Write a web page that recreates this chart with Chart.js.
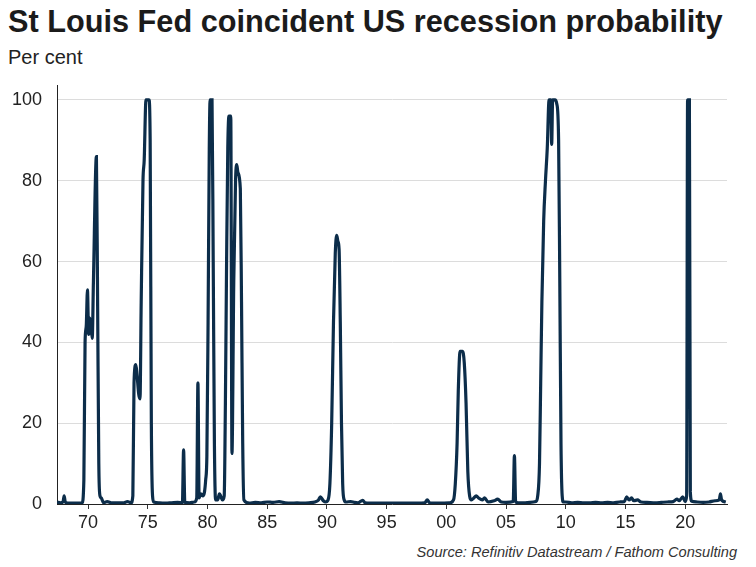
<!DOCTYPE html>
<html>
<head>
<meta charset="utf-8">
<script src="https://cdn.jsdelivr.net/npm/chart.js@4"></script>
<style>
  body { margin: 0; background: #fff; font-family: "Liberation Sans", Arial, sans-serif; }
  #wrap { position: relative; width: 756px; height: 567px; overflow: hidden; }
  #title { position: absolute; left: 8px; top: 4px; font-size: 30.7px; font-weight: bold; color: #1b1b1b; white-space: nowrap; }
  #unit { position: absolute; left: 8px; top: 46px; font-size: 20px; color: #222; }
  #source { position: absolute; right: 19px; top: 544px; font-size: 14.6px; font-style: italic; color: #333; }
  #box { position: absolute; left: 0; top: 60px; width: 756px; height: 480px; }
</style>
</head>
<body>
<div id="wrap">
  <div id="title">St Louis Fed coincident US recession probability</div>
  <div id="unit">Per cent</div>
  <div id="box"><canvas id="grafica" width="756" height="480"></canvas></div>
  <div id="source">Source: Refinitiv Datastream / Fathom Consulting</div>
</div>
<script>
// fechas en años decimales, valores en %
const fechas = [
  1967.4, 1967.7, 1967.9, 1968.0, 1968.1, 1968.5, 1969.0, 1969.5,
  1969.65, 1969.75, 1969.85, 1969.95, 1970.05, 1970.15, 1970.25, 1970.35, 1970.45, 1970.7, 1970.8, 1970.9,
  1971.0, 1971.1, 1971.3, 1971.6, 1972.0, 1972.5, 1973.0, 1973.3, 1973.6,
  1973.75, 1973.85, 1974.0, 1974.1, 1974.25, 1974.35, 1974.45, 1974.6, 1974.7, 1974.85, 1975.1, 1975.2, 1975.3, 1975.4,
  1975.5, 1976.0, 1976.5, 1977.0, 1977.5, 1977.9, 1978.0, 1978.1, 1978.5, 1978.9,
  1979.1, 1979.2, 1979.3, 1979.45, 1979.6, 1979.75, 1979.85, 1979.95,
  1980.05, 1980.15, 1980.22, 1980.38, 1980.48, 1980.58, 1980.68, 1980.85, 1981.0, 1981.1, 1981.25,
  1981.4, 1981.5, 1981.6, 1981.7, 1981.8, 1981.95, 1982.05, 1982.2, 1982.35, 1982.45, 1982.55, 1982.75, 1982.85, 1982.95, 1983.05,
  1983.5, 1984.0, 1984.5, 1985.0, 1985.5, 1986.0, 1986.5, 1987.0, 1987.5, 1988.0, 1988.5, 1989.0, 1989.3, 1989.45, 1989.7, 1989.9,
  1990.1, 1990.25, 1990.4, 1990.55, 1990.7, 1990.82, 1990.92, 1991.02, 1991.12, 1991.22, 1991.32, 1991.45,
  1991.6, 1992.0, 1992.3, 1992.6, 1993.0, 1993.2, 1993.6, 1994.5, 1995.5, 1996.5, 1997.5, 1998.2, 1998.4, 1998.6, 1999.5, 2000.3,
  2000.6, 2000.75, 2000.9, 2001.0, 2001.15, 2001.35, 2001.5, 2001.65, 2001.8, 2001.95,
  2002.1, 2002.3, 2002.5, 2002.7, 2003.0, 2003.2, 2003.5, 2004.0, 2004.3, 2004.6, 2005.0, 2005.6, 2005.7, 2005.8,
  2006.0, 2006.5, 2007.0, 2007.5,
  2007.65, 2007.8, 2007.9, 2008.0, 2008.15, 2008.3, 2008.45, 2008.6, 2008.75, 2008.82, 2008.9, 2009.1, 2009.25, 2009.4, 2009.5, 2009.6, 2009.7, 2009.8,
  2010.0, 2010.5, 2011.0, 2011.5, 2012.0, 2012.5, 2013.0, 2013.5, 2014.0, 2014.5, 2014.9,
  2015.1, 2015.3, 2015.5, 2015.7, 2016.0, 2016.3, 2016.8, 2017.5, 2018.0, 2018.5, 2019.0, 2019.3, 2019.5, 2019.8, 2020.0,
  2020.12, 2020.2, 2020.35, 2020.43, 2020.55, 2021.0, 2021.5, 2022.0, 2022.5, 2022.85, 2022.95, 2023.05, 2023.4
];
const probabilidad = [
  0.5, 0.3, 0.5, 2.0, 0.4, 0.2, 0.2, 0.3,
  6, 40, 44, 53, 42, 46, 44, 41, 55, 86, 50, 10,
  2, 1.5, 0.3, 0.6, 0.3, 0.3, 0.3, 0.6, 0.3,
  2, 30, 34.5, 32, 27, 26, 50, 80, 85, 100, 100, 90, 20, 2,
  0.5, 0.3, 0.2, 0.3, 0.4, 0.3, 13.4, 0.4, 0.3, 0.5,
  1.5, 30, 1.5, 2.5, 2, 3, 6, 12,
  45, 88, 100, 100, 60, 15, 1, 1, 2.5, 2, 1,
  2, 25, 60, 88, 96, 96, 12.5, 55, 80, 84, 82, 78, 50, 15, 1,
  0.2, 0.4, 0.3, 0.5, 0.4, 0.6, 0.3, 0.2, 0.3, 0.2, 0.3, 0.5, 1, 1.8, 0.8, 0.5,
  1, 5, 20, 45, 62, 66.5, 65, 63, 45, 20, 5, 1,
  0.5, 0.6, 0.4, 0.3, 0.9, 0.3, 0.2, 0.2, 0.2, 0.2, 0.2, 0.3, 1, 0.3, 0.2, 0.3,
  1, 5, 15, 28, 37.8, 37.8, 35, 25, 8, 2,
  1, 1.5, 2, 1.5, 1, 1.5, 0.5, 0.8, 1.2, 0.5, 0.4, 0.6, 12, 0.6,
  0.3, 0.3, 0.4, 0.6,
  2, 10, 30, 50, 70, 80, 88, 100, 100, 89, 100, 100, 99, 90, 55, 15, 2, 0.5,
  0.5, 0.3, 0.4, 0.3, 0.3, 0.4, 0.3, 0.4, 0.3, 0.5, 0.6,
  1.8, 1.0, 1.5, 0.8, 1.0, 0.5, 0.4, 0.3, 0.4, 0.5, 0.6, 1.2, 0.8, 1.8, 0.6,
  2, 100, 100, 3, 0.7, 0.5, 0.4, 0.5, 0.8, 1, 2.5, 1, 0.5
];
const etiquetasX = [1970, 1975, 1980, 1985, 1990, 1995, 2000, 2005, 2010, 2015, 2020];
const etiquetasY = [0, 20, 40, 60, 80, 100];

const puntos = fechas.map((f, i) => ({ x: f, y: probabilidad[i] }));

new Chart(document.getElementById('grafica'), {
  type: 'line',
  data: {
    datasets: [{
      data: puntos,
      borderColor: '#0c2d4a',
      borderWidth: 3.2,
      pointRadius: 0,
      cubicInterpolationMode: 'monotone',
      fill: false,
    }]
  },
  options: {
    responsive: false,
    animation: false,
    layout: { padding: { top: 5, right: 29, bottom: 0, left: 0 } },
    plugins: { legend: { display: false }, tooltip: { enabled: false } },
    scales: {
      x: {
        type: 'linear',
        min: 1967.4,
        max: 2023.5,
        afterBuildTicks: (axis) => { axis.ticks = etiquetasX.map(v => ({ value: v })); },
        afterFit: (axis) => { axis.height = 36; },
        grid: { drawOnChartArea: false, drawTicks: true, tickLength: 5, tickColor: '#333' },
        border: { color: '#222', width: 1 },
        ticks: {
          color: '#222',
          font: { family: 'Liberation Sans', size: 18 },
          padding: 3,
          maxRotation: 0,
          autoSkip: false,
          callback: (v) => String(v % 100).padStart(2, '0'),
        },
      },
      y: {
        min: 0,
        max: 103.5,
        afterBuildTicks: (axis) => { axis.ticks = etiquetasY.map(v => ({ value: v })); },
        afterFit: (axis) => { axis.width = 57; },
        grid: { color: '#dcdcdc', lineWidth: 1, drawTicks: false },
        border: { color: '#222', width: 1 },
        ticks: {
          color: '#222',
          font: { family: 'Liberation Sans', size: 18 },
          padding: 15,
          autoSkip: false,
        },
      },
    },
  },
});
</script>
</body>
</html>
